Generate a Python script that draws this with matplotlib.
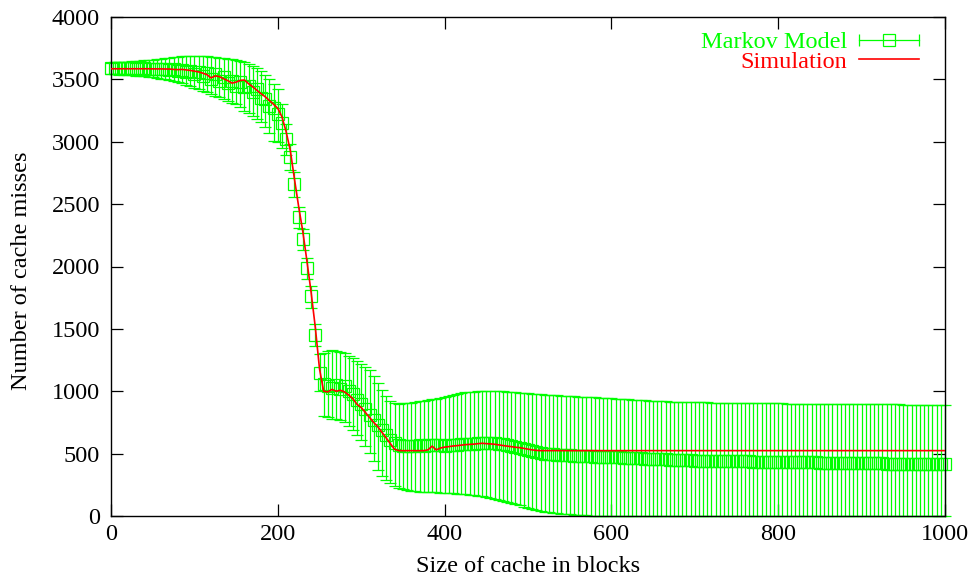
import numpy as np
import matplotlib
matplotlib.use("Agg")
import matplotlib.pyplot as plt
from matplotlib.lines import Line2D

plt.rcParams['font.family'] = ['Liberation Serif', 'DejaVu Serif']

# ---- data ----
cache_sizes = np.arange(0, 1001, 5)

simulation = [
    3585, 3585, 3585, 3585, 3585, 3585, 3585, 3585, 3585, 3585,
    3584, 3584, 3584, 3583, 3583, 3580, 3578, 3580, 3576, 3572,
    3566, 3560, 3550, 3538, 3512, 3528, 3522, 3505, 3490, 3470,
    3478, 3492, 3495, 3465, 3440, 3412, 3385, 3360, 3330, 3300,
    3268, 3200, 3080, 2930, 2700, 2480, 2280, 2040, 1790, 1510,
    1180, 1000, 995, 1015, 1000, 1008, 995, 970, 940, 895,
    870, 830, 790, 750, 715, 670, 625, 580, 535, 524,
    524, 524, 524, 524, 524, 524, 530, 560, 530, 545,
    552, 556, 561, 564, 568, 572, 574, 576, 580, 583,
    580, 578, 575, 570, 565, 560, 556, 551, 548, 542,
    536, 530, 526, 524, 524, 524, 524, 524, 524, 524,
    524, 524, 524, 524, 524, 524, 524, 524, 524, 524,
    524, 524, 524, 524, 524, 524, 524, 524, 524, 524,
    524, 524, 524, 524, 524, 524, 524, 524, 524, 524,
    524, 524, 524, 524, 524, 524, 524, 524, 524, 524,
    524, 524, 524, 524, 524, 524, 524, 524, 524, 524,
    524, 524, 524, 524, 524, 524, 524, 524, 524, 524,
    524, 524, 524, 524, 524, 524, 524, 524, 524, 524,
    524, 524, 524, 524, 524, 524, 524, 524, 524, 524,
    524, 524, 524, 524, 524, 524, 524, 524, 524, 524,
    524,
]

markov_mean = [
    3592, 3590, 3588, 3591, 3589, 3590, 3587, 3590, 3588, 3586,
    3585, 3583, 3580, 3585, 3576, 3580, 3570, 3575, 3560, 3565,
    3545, 3560, 3530, 3550, 3500, 3540, 3490, 3520, 3470, 3490,
    3450, 3480, 3440, 3450, 3400, 3420, 3350, 3340, 3290, 3270,
    3220, 3150, 3020, 2880, 2660, 2400, 2220, 1990, 1760, 1450,
    1150, 1060, 1040, 1030, 1050, 1020, 1040, 1000, 980, 930,
    900, 860, 810, 770, 730, 690, 650, 610, 585, 570,
    565, 565, 563, 565, 566, 565, 566, 570, 568, 566,
    565, 568, 570, 572, 574, 576, 578, 580, 582, 584,
    585, 584, 582, 580, 576, 570, 564, 556, 548, 538,
    528, 518, 510, 504, 500, 497, 494, 492, 490, 488,
    486, 484, 482, 480, 479, 478, 476, 475, 474, 472,
    471, 470, 469, 467, 466, 465, 463, 462, 460, 459,
    458, 456, 455, 453, 452, 450, 448, 447, 446, 445,
    443, 443, 442, 442, 441, 441, 440, 440, 439, 439,
    438, 438, 437, 437, 436, 436, 435, 435, 434, 434,
    433, 433, 432, 432, 431, 431, 430, 430, 429, 429,
    428, 428, 427, 427, 426, 426, 425, 425, 424, 424,
    423, 423, 422, 422, 421, 421, 420, 420, 420, 419,
    419, 419, 418, 418, 418, 417, 417, 417, 417, 416,
    416,
]

markov_upper = [
    3635, 3636, 3638, 3640, 3642, 3644, 3646, 3650, 3652, 3655,
    3658, 3662, 3665, 3670, 3672, 3676, 3680, 3685, 3690, 3688,
    3690, 3685, 3688, 3684, 3682, 3680, 3675, 3672, 3665, 3660,
    3655, 3648, 3640, 3625, 3610, 3590, 3565, 3535, 3500, 3460,
    3420, 3300, 3140, 2980, 2760, 2480, 2300, 2070, 1840, 1540,
    1300, 1310, 1325, 1330, 1325, 1318, 1305, 1285, 1265, 1240,
    1218, 1195, 1170, 1120, 1070, 1010, 960, 925, 905, 900,
    902, 905, 908, 912, 918, 924, 930, 935, 940, 948,
    955, 962, 970, 977, 984, 990, 994, 997, 1000, 1002,
    1003, 1004, 1004, 1002, 1000, 997, 994, 991, 988, 985,
    982, 980, 977, 975, 972, 970, 968, 966, 964, 962,
    960, 958, 956, 954, 952, 951, 950, 949, 947, 945,
    943, 941, 939, 937, 935, 933, 931, 929, 927, 925,
    923, 921, 920, 918, 917, 916, 915, 914, 913, 912,
    911, 911, 910, 910, 909, 909, 908, 908, 907, 907,
    906, 906, 905, 905, 905, 904, 904, 903, 903, 903,
    902, 902, 901, 901, 901, 900, 900, 900, 899, 899,
    899, 898, 898, 898, 897, 897, 897, 896, 896, 896,
    896, 895, 895, 895, 895, 894, 894, 894, 894, 894,
    893, 893, 893, 893, 893, 893, 892, 892, 892, 892,
    892,
]

markov_lower = [
    3540, 3540, 3538, 3536, 3534, 3532, 3530, 3527, 3524, 3522,
    3518, 3512, 3505, 3500, 3492, 3485, 3475, 3468, 3455, 3445,
    3432, 3420, 3405, 3395, 3385, 3370, 3355, 3340, 3325, 3312,
    3300, 3280, 3250, 3230, 3210, 3185, 3160, 3120, 3070, 3010,
    3000, 2950, 2890, 2770, 2560, 2310, 2130, 1900, 1670, 1360,
    1000, 800, 790, 780, 775, 770, 755, 725, 690, 650,
    610, 560, 505, 440, 370, 320, 285, 262, 240, 225,
    215, 208, 203, 199, 196, 194, 193, 192, 190, 188,
    186, 184, 182, 180, 178, 176, 172, 168, 163, 158,
    152, 146, 140, 132, 124, 115, 106, 96, 86, 76,
    66, 57, 49, 42, 36, 31, 27, 23, 20, 17,
    14, 12, 10, 8, 6, 4, 3, 2, 1, 0,
    0, 0, 0, 0, 0, 0, 0, 0, 0, 0,
    0, 0, 0, 0, 0, 0, 0, 0, 0, 0,
    0, 0, 0, 0, 0, 0, 0, 0, 0, 0,
    0, 0, 0, 0, 0, 0, 0, 0, 0, 0,
    0, 0, 0, 0, 0, 0, 0, 0, 0, 0,
    0, 0, 0, 0, 0, 0, 0, 0, 0, 0,
    0, 0, 0, 0, 0, 0, 0, 0, 0, 0,
    0, 0, 0, 0, 0, 0, 0, 0, 0, 0,
    0,
]

x_ticks = [0, 200, 400, 600, 800, 1000]
y_ticks = [0, 500, 1000, 1500, 2000, 2500, 3000, 3500, 4000]

GREEN = '#00ff00'
RED = '#ff0000'
W, H = 970, 579
FS = 17.5

# ---- figure ----
fig = plt.figure(figsize=(W / 100, H / 100), dpi=100)
ax = fig.add_axes([111 / W, (H - 516) / H, 834 / W, 499 / H])
ax.set_xlim(0, 1000)
ax.set_ylim(0, 4000)

mean = np.array(markov_mean, dtype=float)
lo = mean - np.array(markov_lower, dtype=float)
hi = np.array(markov_upper, dtype=float) - mean

cont = ax.errorbar(cache_sizes, mean, yerr=[lo, hi], fmt='s',
                   mfc='none', mec=GREEN, ms=8.4, mew=0.9,
                   ecolor=GREEN, elinewidth=0.9, capsize=4.3, capthick=0.9,
                   zorder=2)
for art in cont.lines[0:1] + tuple(cont.lines[1]) + tuple(cont.lines[2]):
    art.set_clip_on(False)

ax.plot(cache_sizes, simulation, color=RED, lw=1.2, zorder=3)

ax.set_xticks(x_ticks)
ax.set_yticks(y_ticks)
ax.tick_params(direction='in', top=True, right=True, length=8.6, width=0.9,
               labelsize=FS, colors='black')
ax.tick_params(axis='x', pad=6)
ax.tick_params(axis='y', pad=8)
for s in ax.spines.values():
    s.set_linewidth(1.0)
    s.set_color('black')

ax.set_xlabel('Size of cache in blocks', fontsize=FS, va='center')
ax.xaxis.set_label_coords(0.5, (516 - 567) / 499)
ax.set_ylabel('Number of cache misses', fontsize=FS, va='center')
ax.yaxis.set_label_coords((22 - 111) / 834, (516 - 271) / 499)

# ---- legend (gnuplot style, drawn manually) ----
def fx(px):
    return px / W

def fy(py):
    return 1 - py / H

fig.text(fx(847), fy(42), 'Markov Model', color=GREEN, fontsize=FS,
         ha='right', va='center')
fig.text(fx(847), fy(62), 'Simulation', color=RED, fontsize=FS,
         ha='right', va='center')
fig.add_artist(Line2D([fx(859), fx(919)], [fy(40), fy(40)], color=GREEN,
                      lw=0.9, transform=fig.transFigure))
fig.add_artist(Line2D([fx(859), fx(919)], [fy(40), fy(40)], color=GREEN,
                      lw=0, marker='|', ms=8.6, mew=0.9,
                      transform=fig.transFigure))
fig.add_artist(Line2D([fx(889)], [fy(40)], color=GREEN, lw=0, marker='s',
                      mfc='none', mec=GREEN, ms=8.4, mew=0.9,
                      transform=fig.transFigure))
fig.add_artist(Line2D([fx(859), fx(919)], [fy(59), fy(59)], color=RED,
                      lw=1.2, transform=fig.transFigure))

fig.savefig('out.png', dpi=100)
